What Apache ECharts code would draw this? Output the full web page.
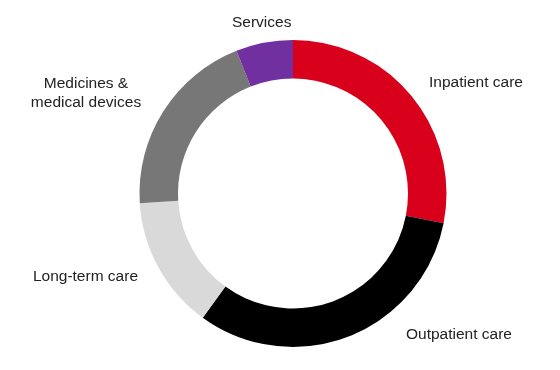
<!DOCTYPE html>
<html>
<head>
<meta charset="utf-8">
<script src="https://cdn.jsdelivr.net/npm/echarts@6/dist/echarts.min.js"></script>
<style>
html,body{margin:0;padding:0;background:#fff;}
#c{width:560px;height:370px;}
</style>
</head>
<body>
<div id="c"></div>
<script>
const categories = ["Inpatient care", "Outpatient care", "Long-term care", "Medicines &\nmedical devices", "Services"];
const values = [28.1, 31.9, 14.0, 20.0, 6.0];
const colors = ["#d9001b", "#000000", "#d9d9d9", "#777777", "#7030a0"];
// label anchor positions (x, y, align)
const labelPos = [
  [429, 83, "left"],
  [406, 335, "left"],
  [138, 277, "right"],
  [86, 93, "center"],
  [232, 23, "left"]
];

const chart = echarts.init(document.getElementById('c'), null, {renderer: 'canvas'});
chart.setOption({
  animation: false,
  backgroundColor: '#ffffff',
  series: [{
    type: 'pie',
    center: [293, 193.5],
    radius: [115, 153.5],
    startAngle: 90,
    clockwise: true,
    avoidLabelOverlap: false,
    emphasis: {disabled: true},
    label: {
      show: true,
      position: 'outside',
      formatter: '{b}',
      fontFamily: 'Liberation Sans, Arial, sans-serif',
      fontSize: 15.5,
      lineHeight: 19,
      color: '#222222'
    },
    labelLine: {show: false},
    labelLayout: function (p) {
      const lp = labelPos[p.dataIndex];
      return {x: lp[0], y: lp[1], align: lp[2], verticalAlign: 'middle'};
    },
    data: categories.map((c, i) => ({
      name: c,
      value: values[i],
      itemStyle: {color: colors[i]},
      label: {align: labelPos[i][2]}
    }))
  }]
});
</script>
</body>
</html>
